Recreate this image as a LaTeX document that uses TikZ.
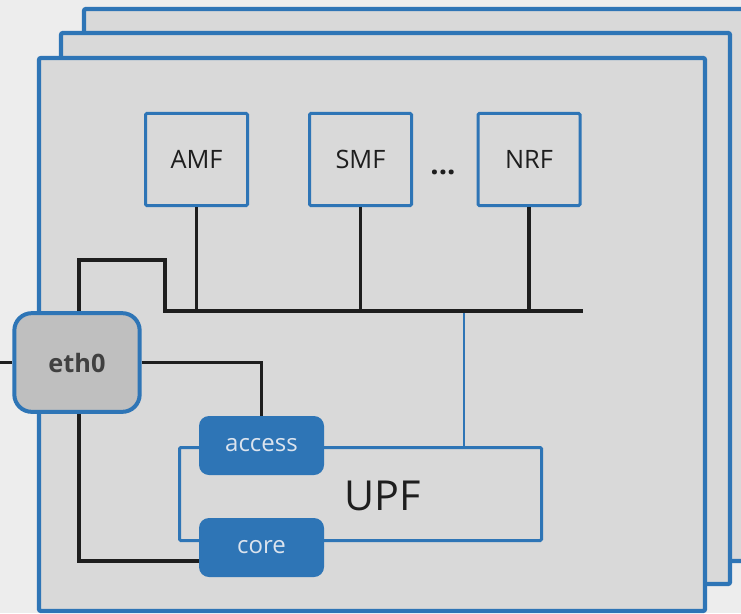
\documentclass[tikz,border=0pt]{standalone}
\usepackage{fontspec}
\setmainfont{Open Sans}
\definecolor{pageback}{HTML}{EDEDED}
\definecolor{panelgray}{HTML}{D9D9D9}
\definecolor{portgray}{HTML}{BFBFBF}
\definecolor{nfblue}{HTML}{2E75B6}
\definecolor{wireblack}{HTML}{1E1E1E}
\definecolor{labeldark}{HTML}{404040}
\definecolor{labellight}{HTML}{DCE4EE}
\tikzset{
  panel/.style={draw=nfblue, line width=3.2pt, fill=panelgray, rounded corners=1.5pt},
  nfbox/.style={draw=nfblue, line width=2.25pt, fill=panelgray, rounded corners=1pt,
    minimum width=76.5pt, minimum height=69pt, inner sep=0pt,
    font=\fontsize{19}{22}\selectfont, text=wireblack},
  portbox/.style={draw=nfblue, line width=3pt, fill=portgray, rounded corners=13pt,
    minimum width=94pt, minimum height=74pt, inner sep=0pt,
    font=\bfseries\fontsize{19}{22}\selectfont, text=labeldark},
  ifbox/.style={fill=nfblue, rounded corners=7.5pt, minimum width=93.75pt,
    minimum height=44.25pt, inner sep=0pt,
    font=\fontsize{18}{21}\selectfont, text=labellight},
  upfbox/.style={draw=nfblue, line width=2.25pt, rounded corners=1pt,
    minimum width=271.5pt, minimum height=69.75pt, inner sep=0pt},
  wire/.style={draw=wireblack, line width=2.4pt},
  bluewire/.style={draw=nfblue, line width=1.6pt},
}
\begin{document}
\begin{tikzpicture}[x=0.75pt, y=-0.75pt]
  \useasboundingbox (0,0) rectangle (741,613);
  \fill[pageback] (0,0) rectangle (741,613);
  \clip (0,0) rectangle (741,613);

  % stacked host panels, back to front
  \draw[panel] (84,9) rectangle (770,561);
  \draw[panel] (61,33) rectangle (730,584);
  \draw[panel] (39,58) rectangle (705,611);

  % network functions
  \node[nfbox] (amf) at (196.5,159.5) {AMF};
  \node[nfbox] (smf) at (360.5,159.5) {SMF};
  \node[nfbox] (nrf) at (529,159.5) {NRF};
  \node[font=\bfseries\fontsize{22}{26}\selectfont, text=wireblack, anchor=base, inner sep=0pt]
    (dots) at (443,174) {...};

  % bus and junction points
  \coordinate (j1) at (79,260);
  \coordinate (j2) at (165,260);
  \coordinate (busL) at (165,311);
  \coordinate (busR) at (583,311);
  \coordinate (ext) at (0,362.5);
  \coordinate (c1) at (79,561);
  \coordinate (tap) at (464,311);

  % UPF with its interfaces
  \node[upfbox] (upf) at (360.5,494) {};
  \node[font=\fontsize{31}{36}\selectfont, text=wireblack] (upflabel) at (383,496) {UPF};
  \draw[bluewire] (tap) -- (tap |- upf.north);
  \node[ifbox] (access) at (261.5,445.5) {access};
  \node[ifbox] (core) at (261.5,547.5) {core};

  % host interface
  \node[portbox] (eth0) at (77,362.5) {eth0};

  % wiring
  \draw[wire] (eth0.north -| j1) -- (j1) -- (j2) -- (busL) -- (busR);
  \draw[wire] (amf.south) -- (amf.south |- busL);
  \draw[wire] (smf.south) -- (smf.south |- busL);
  \draw[wire] (nrf.south) -- (nrf.south |- busL);
  \draw[wire] (ext) -- (eth0.west);
  \draw[wire] (eth0.east) -| (access.north);
  \draw[wire] (eth0.south -| c1) -- (c1) -- (c1 -| core.west);
\end{tikzpicture}
\end{document}
